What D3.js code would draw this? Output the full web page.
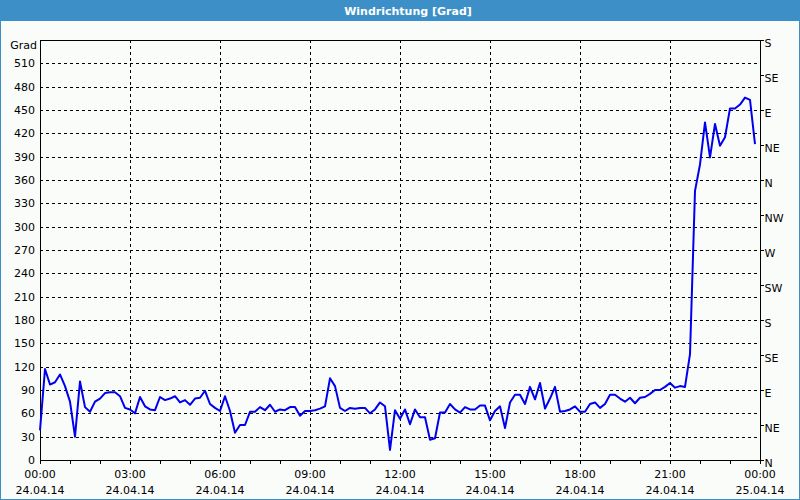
<!DOCTYPE html>
<html><head><meta charset="utf-8">
<script src="https://cdn.jsdelivr.net/npm/d3@7"></script>
<style>
html,body{margin:0;padding:0;background:#fff;}
svg{display:block;}
text{font-family:"DejaVu Sans",Verdana,sans-serif;}
</style></head>
<body>
<svg id="chart" width="800" height="500"></svg>
<script>
// minutes since 24.04.14 00:00, 10-minute steps
const times = d3.range(0, 1440, 10);
const values = [
 38,117,97,100,110,95,75,30,101,68,62,75,79,86,87,87,82,67,
 65,60,81,69,65,64,81,77,79,82,74,77,71,79,80,89,72,67,
 63,82,63,35,45,45,62,62,68,64,71,62,65,64,68,68,57,63,
 63,64,66,69,105,95,67,63,67,66,67,67,60,65,74,69,13,64,
 53,65,46,65,55,55,26,28,61,61,72,65,61,68,65,65,70,70,
 51,63,69,41,74,84,84,72,94,78,99,66,79,94,62,63,65,69,
 62,62,72,74,67,72,84,84,79,75,80,73,80,81,85,90,90,94,
 99,93,95,94,136,346,380,434,389,432,404,415,452,452,457,466,463,406
];
const leftTicks = d3.range(0, 511, 30);
const rightTickValues = d3.range(0, 541, 45);
const rightTickLabels = ["N","NE","E","SE","S","SW","W","NW","N","NE","E","SE","S"];
const xTickHours = d3.range(0, 25, 3);
const timeLabels = ["00:00","03:00","06:00","09:00","12:00","15:00","18:00","21:00","00:00"];
const dateLabels = ["24.04.14","24.04.14","24.04.14","24.04.14","24.04.14","24.04.14","24.04.14","24.04.14","25.04.14"];
const title = "Windrichtung [Grad]";
const yUnit = "Grad";

const W = 800, H = 500;
const m = {l:40, r:760, t:40, b:460};
const svg = d3.select("#chart");

svg.append("rect").attr("x",0).attr("y",0).attr("width",W).attr("height",H).attr("fill","#3d8fc7");
svg.append("rect").attr("x",1).attr("y",21).attr("width",W-2).attr("height",H-22).attr("fill","#fafcfa");
svg.append("text").attr("x",408).attr("y",14.5).attr("text-anchor","middle")
  .attr("fill","#fff").attr("font-size","11px").attr("font-weight","bold").text(title);

const x = d3.scaleLinear().domain([0, 1440]).range([m.l, m.r]);
const y = d3.scaleLinear().domain([0, 540]).range([m.b, m.t]);

// grid
const g = svg.append("g").attr("shape-rendering","crispEdges");
g.selectAll(".hg").data(leftTicks.filter(d=>d>0)).enter().append("line")
  .attr("x1",m.l).attr("x2",m.r).attr("y1",d=>Math.round(y(d))+0.5).attr("y2",d=>Math.round(y(d))+0.5)
  .attr("stroke","#000").attr("stroke-dasharray","3,3");
g.selectAll(".vg").data(xTickHours.filter(h=>h>0&&h<24)).enter().append("line")
  .attr("y1",m.t).attr("y2",m.b).attr("x1",d=>Math.round(x(d*60))+0.5).attr("x2",d=>Math.round(x(d*60))+0.5)
  .attr("stroke","#000").attr("stroke-dasharray","3,3");

// frame
g.append("line").attr("x1",m.l+0.5).attr("x2",m.l+0.5).attr("y1",m.t).attr("y2",m.b+1).attr("stroke","#000");
g.append("line").attr("x1",m.r+0.5).attr("x2",m.r+0.5).attr("y1",m.t).attr("y2",m.b+1).attr("stroke","#000");
g.append("line").attr("x1",m.l).attr("x2",m.r+1).attr("y1",m.t+0.5).attr("y2",m.t+0.5).attr("stroke","#000");

// bottom axis
const xAxis = d3.axisBottom(x).tickValues(d3.range(0,1441,60)).tickSize(3).tickFormat("");
const xa = svg.append("g").attr("transform",`translate(0,${m.b+0.5})`).call(xAxis);
xa.select(".domain").attr("stroke","#000").attr("d",`M${m.l},0H${m.r+1}`);
xa.selectAll(".tick line").attr("stroke","#000").attr("shape-rendering","crispEdges");
const xl = svg.append("g");
xl.selectAll(".tl").data(xTickHours).enter().append("text")
  .attr("x",d=>x(d*60)).attr("y",478).attr("text-anchor","middle").attr("font-size","11px").attr("fill","#000")
  .text((d,i)=>timeLabels[i]);
xl.selectAll(".dl").data(xTickHours).enter().append("text")
  .attr("x",d=>x(d*60)).attr("y",494).attr("text-anchor","middle").attr("font-size","11px").attr("fill","#000")
  .text((d,i)=>dateLabels[i]);

// left axis
const yAxis = d3.axisLeft(y).tickValues(leftTicks).tickSize(0).tickPadding(5);
const ya = svg.append("g").attr("transform",`translate(${m.l},0)`).call(yAxis);
ya.select(".domain").remove();
ya.selectAll("text").attr("font-size","11px").attr("fill","#000").attr("font-family","DejaVu Sans, sans-serif");
svg.append("text").attr("x",37).attr("y",y(540)+9).attr("text-anchor","end").attr("font-size","11px").text(yUnit);

// right axis
const yR = d3.axisRight(y).tickValues(rightTickValues).tickSize(3).tickPadding(1)
  .tickFormat((d,i)=>rightTickLabels[i]);
const yra = svg.append("g").attr("transform",`translate(${m.r+0.5},0)`).call(yR);
yra.select(".domain").remove();
yra.selectAll(".tick line").attr("stroke","#000").attr("shape-rendering","crispEdges");
yra.selectAll("text").attr("font-size","11px").attr("fill","#000").attr("font-family","DejaVu Sans, sans-serif")
  .attr("dy","0.55em");

// series
const line = d3.line().x((d,i)=>x(times[i])).y(d=>y(d));
svg.append("path").datum(values).attr("d",line).attr("fill","none")
  .attr("stroke","#0000ee").attr("stroke-width",2).attr("stroke-linejoin","round");

// outer border
svg.append("rect").attr("x",0.5).attr("y",0.5).attr("width",W-1).attr("height",H-1)
  .attr("fill","none").attr("stroke","#3d8fc7");
</script>
</body></html>
